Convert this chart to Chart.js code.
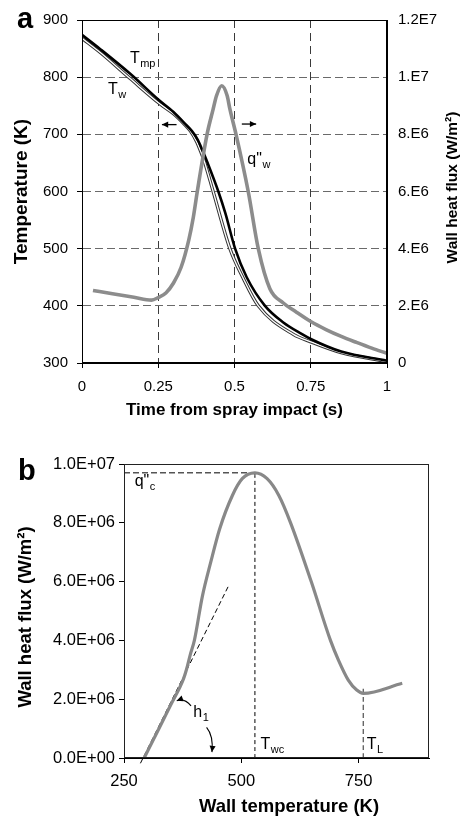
<!DOCTYPE html>
<html>
<head>
<meta charset="utf-8">
<script src="https://cdn.jsdelivr.net/npm/chart.js@4.4.1/dist/chart.umd.min.js"></script>
<style>
  html, body { margin: 0; padding: 0; background: #fff; }
  #wrapA { position: absolute; left: 0; top: 0; width: 465px; height: 425px; }
  #wrapB { position: absolute; left: 0; top: 425px; width: 465px; height: 391px; }
</style>
</head>
<body>
<div id="wrapA"><canvas id="chartA" width="465" height="425"></canvas></div>
<div id="wrapB"><canvas id="chartB" width="465" height="391"></canvas></div>
<script>
// ---- panel a: temperatures and wall heat flux vs time ----
const timeTicks = [0, 0.25, 0.5, 0.75, 1];
const timeTickLabels = ['0', '0.25', '0.5', '0.75', '1'];
const tempTicks = [300, 400, 500, 600, 700, 800, 900];
const tempTickLabels = ['300', '400', '500', '600', '700', '800', '900'];
const fluxTicksA = [0, 2e6, 4e6, 6e6, 8e6, 1e7, 1.2e7];
const fluxTickLabelsA = ['0', '2.E6', '4.E6', '6.E6', '8.E6', '1.E7', '1.2E7'];

const tmpTime = [0, 0.06, 0.16, 0.25, 0.30, 0.335, 0.36, 0.38, 0.395, 0.411, 0.447, 0.47, 0.502, 0.54, 0.6, 0.66, 0.72, 0.75, 0.85, 1.0];
const tmpTemp = [874, 849, 805, 761, 739, 720, 706, 690, 672, 651, 600, 562, 500, 450, 400, 371, 351, 342, 320, 304];

const twTime = [0, 0.06, 0.157, 0.256, 0.30, 0.335, 0.355, 0.375, 0.39, 0.401, 0.43, 0.485, 0.527, 0.578, 0.693, 0.75, 0.85, 1.0];
const twTemp = [868, 843, 798, 753, 736, 718, 706, 688, 669, 653, 600, 500, 450, 400, 350, 337, 318, 302.5];

const qwTime = [0.036, 0.10, 0.17, 0.228, 0.25, 0.275, 0.30, 0.325, 0.35, 0.365, 0.378, 0.41, 0.43, 0.441, 0.458, 0.476, 0.485, 0.505, 0.545, 0.578, 0.616, 0.66, 0.70, 0.75, 0.80, 0.85, 0.90, 0.95, 1.0];
const qwFlux = [2.54e6, 2.42e6, 2.30e6, 2.20e6, 2.29e6, 2.45e6, 2.8e6, 3.35e6, 4.3e6, 5.1e6, 6.0e6, 8.0e6, 8.88e6, 9.35e6, 9.70e6, 9.35e6, 8.88e6, 8.0e6, 6.0e6, 4.0e6, 2.6e6, 2.1e6, 1.8e6, 1.45e6, 1.17e6, 0.93e6, 0.72e6, 0.52e6, 0.34e6];

// ---- panel b: boiling curve ----
const wallTempTicks = [250, 500, 750];
const wallTempTickLabels = ['250', '500', '750'];
const fluxTicksB = [0, 2e6, 4e6, 6e6, 8e6, 1e7];
const fluxTickLabelsB = ['0.0E+00', '2.0E+06', '4.0E+06', '6.0E+06', '8.0E+06', '1.0E+07'];

const boilTemp = [293, 320, 350, 377, 383, 391, 400, 417, 435, 454, 481, 502, 529, 555, 580, 605, 649, 690, 707, 728, 746, 760, 843];
const boilFlux = [0, 0.86e6, 1.82e6, 2.7e6, 3.0e6, 3.5e6, 4.0e6, 5.5e6, 6.67e6, 7.8e6, 8.93e6, 9.5e6, 9.7e6, 9.5e6, 8.93e6, 8.0e6, 6.0e6, 4.0e6, 3.33e6, 2.65e6, 2.31e6, 2.2e6, 2.54e6];

const tangentTemp = [285, 472];
const tangentFlux = [-0.18e6, 5.83e6];
const qcTemp = [250, 529];
const qcFlux = [9.7e6, 9.7e6];
const twcTemp = [529, 529];
const twcFlux = [0, 9.7e6];
const tlTemp = [760, 760];
const tlFlux = [0, 2.4e6];

const FONT = '"Liberation Sans", Arial, Helvetica, sans-serif';
Chart.defaults.font.family = FONT;
Chart.defaults.color = '#000';

const pts = (xs, ys) => xs.map((x, i) => ({ x: x, y: ys[i] }));
const fixTicks = (values) => (scale) => { scale.ticks = values.map(v => ({ value: v })); };
const tickText = (labels) => (value, index) => labels[index];

function subText(ctx, x, y, main, sub, size) {
  ctx.font = size + 'px ' + FONT;
  ctx.textAlign = 'left';
  ctx.textBaseline = 'alphabetic';
  ctx.fillText(main, x, y);
  const w = ctx.measureText(main).width;
  ctx.font = Math.round(size * 0.7) + 'px ' + FONT;
  ctx.fillText(sub, x + w + 0.5, y + size * 0.25);
}

function vText(ctx, text, cx, cy, font) {
  ctx.save();
  ctx.translate(cx, cy);
  ctx.rotate(-Math.PI / 2);
  ctx.font = font;
  ctx.textAlign = 'center';
  ctx.textBaseline = 'middle';
  ctx.fillText(text, 0, 0);
  ctx.restore();
}

function head(ctx, x, y, ang, size) {
  ctx.beginPath();
  ctx.moveTo(x, y);
  ctx.lineTo(x - size * Math.cos(ang - 0.45), y - size * Math.sin(ang - 0.45));
  ctx.lineTo(x - size * Math.cos(ang + 0.45), y - size * Math.sin(ang + 0.45));
  ctx.closePath();
  ctx.fill();
}

function straightArrow(ctx, x1, y1, x2, y2) {
  ctx.beginPath();
  ctx.moveTo(x1, y1);
  ctx.lineTo(x2, y2);
  ctx.stroke();
  head(ctx, x2, y2, Math.atan2(y2 - y1, x2 - x1), 7);
}

function curvedArrow(ctx, x1, y1, cx, cy, x2, y2) {
  ctx.beginPath();
  ctx.moveTo(x1, y1);
  ctx.quadraticCurveTo(cx, cy, x2, y2);
  ctx.stroke();
  head(ctx, x2, y2, Math.atan2(y2 - cy, x2 - cx), 7);
}

function frame(ctx, ca, color) {
  ctx.strokeStyle = color;
  ctx.lineWidth = 1;
  ctx.strokeRect(Math.round(ca.left) + 0.5, Math.round(ca.top) + 0.5,
    Math.round(ca.right - ca.left) - 1, Math.round(ca.bottom - ca.top) - 1);
}

const panelA = {
  id: 'panelA',
  afterDraw(chart) {
    const { ctx, chartArea: ca } = chart;
    const sx = chart.scales.x, sy = chart.scales.y;
    ctx.save();
    frame(ctx, ca, '#000');
    ctx.fillStyle = '#000';
    ctx.font = 'bold 29px ' + FONT;
    ctx.textAlign = 'left';
    ctx.textBaseline = 'alphabetic';
    ctx.fillText('a', 17, 28);

    ctx.font = 'bold 17px ' + FONT;
    ctx.textAlign = 'center';
    ctx.textBaseline = 'middle';
    ctx.fillText('Time from spray impact (s)', (ca.left + ca.right) / 2, 410);
    vText(ctx, 'Temperature (K)', 21.5, (ca.top + ca.bottom) / 2, 'bold 19px ' + FONT);
    vText(ctx, 'Wall heat flux (W/m²)', 453, (ca.top + ca.bottom) / 2 - 4, 'bold 15.5px ' + FONT);

    subText(ctx, sx.getPixelForValue(0.157), sy.getPixelForValue(825.5), 'T', 'mp', 16);
    subText(ctx, sx.getPixelForValue(0.085), sy.getPixelForValue(770), 'T', 'w', 16);
    subText(ctx, sx.getPixelForValue(0.542), sy.getPixelForValue(648.7), 'q"', 'w', 16);

    ctx.strokeStyle = '#000';
    ctx.lineWidth = 1.3;
    straightArrow(ctx, sx.getPixelForValue(0.31), sy.getPixelForValue(717), sx.getPixelForValue(0.262), sy.getPixelForValue(717));
    straightArrow(ctx, sx.getPixelForValue(0.524), sy.getPixelForValue(718), sx.getPixelForValue(0.571), sy.getPixelForValue(718));
    ctx.restore();
  }
};

const panelB = {
  id: 'panelB',
  afterDraw(chart) {
    const { ctx, chartArea: ca } = chart;
    const sx = chart.scales.x, sy = chart.scales.y;
    ctx.save();
    frame(ctx, ca, '#222');
    ctx.fillStyle = '#000';
    ctx.font = 'bold 29px ' + FONT;
    ctx.textAlign = 'left';
    ctx.textBaseline = 'alphabetic';
    ctx.fillText('b', 18, 55);

    ctx.font = 'bold 18.5px ' + FONT;
    ctx.textAlign = 'center';
    ctx.textBaseline = 'middle';
    ctx.fillText('Wall temperature (K)', 289, 382);
    vText(ctx, 'Wall heat flux (W/m²)', 26, (ca.top + ca.bottom) / 2 + 6, 'bold 18.5px ' + FONT);

    subText(ctx, sx.getPixelForValue(272.7), sy.getPixelForValue(9.25e6), 'q"', 'c', 16);
    subText(ctx, sx.getPixelForValue(541), sy.getPixelForValue(0.3e6), 'T', 'wc', 16);
    subText(ctx, sx.getPixelForValue(767.4), sy.getPixelForValue(0.3e6), 'T', 'L', 16);
    subText(ctx, sx.getPixelForValue(397.8), sy.getPixelForValue(1.39e6), 'h', '1', 16);

    ctx.strokeStyle = '#000';
    ctx.lineWidth = 1.1;
    curvedArrow(ctx,
      sx.getPixelForValue(392.9), sy.getPixelForValue(1.77e6),
      sx.getPixelForValue(378.7), sy.getPixelForValue(2.05e6),
      sx.getPixelForValue(362.4), sy.getPixelForValue(1.95e6));
    curvedArrow(ctx,
      sx.getPixelForValue(426), sy.getPixelForValue(1.04e6),
      sx.getPixelForValue(441), sy.getPixelForValue(0.75e6),
      sx.getPixelForValue(437.4), sy.getPixelForValue(0.2e6));
    ctx.restore();
  }
};

const line = (data, extra) => Object.assign({
  data: data, pointRadius: 0, fill: false, tension: 0,
  cubicInterpolationMode: 'monotone'
}, extra);

new Chart(document.getElementById('chartA'), {
  type: 'line',
  data: {
    datasets: [
      line(pts(qwTime, qwFlux), { label: 'q"w', yAxisID: 'y2', borderColor: '#8c8c8c', borderWidth: 3.6 }),
      line(pts(tmpTime, tmpTemp), { label: 'Tmp', yAxisID: 'y', borderColor: '#000', borderWidth: 2.6 }),
      line(pts(twTime, twTemp), { label: 'Tw core', yAxisID: 'y', borderColor: '#fff', borderWidth: 1.3 }),
      line(pts(twTime, twTemp), { label: 'Tw', yAxisID: 'y', borderColor: '#333', borderWidth: 3.3 })
    ]
  },
  options: {
    responsive: false,
    animation: false,
    devicePixelRatio: 1,
    layout: { padding: { top: 19, left: 0, right: 0, bottom: 0 } },
    plugins: { legend: { display: false }, tooltip: { enabled: false } },
    scales: {
      x: {
        type: 'linear', min: 0, max: 1,
        afterBuildTicks: fixTicks(timeTicks),
        afterFit: (s) => { s.height = 62; },
        ticks: { callback: tickText(timeTickLabels), font: { size: 15 }, color: '#000', padding: 10, maxRotation: 0, autoSkip: false },
        grid: { color: '#3a3a3a', lineWidth: 1, tickLength: 5, tickColor: '#000' },
        border: { color: '#000', dash: [8, 5] }
      },
      y: {
        type: 'linear', position: 'left', min: 300, max: 900,
        afterBuildTicks: fixTicks(tempTicks),
        afterFit: (s) => { s.width = 82; },
        ticks: { callback: tickText(tempTickLabels), font: { size: 15 }, color: '#000', padding: 9 },
        grid: { color: '#6a6a6a', lineWidth: 1, tickLength: 5, tickColor: '#000' },
        border: { color: '#000', dash: [8, 4] }
      },
      y2: {
        type: 'linear', position: 'right', min: 0, max: 1.2e7,
        afterBuildTicks: fixTicks(fluxTicksA),
        afterFit: (s) => { s.width = 78; },
        ticks: { callback: tickText(fluxTickLabelsA), font: { size: 15 }, color: '#000', padding: 11 },
        grid: { display: false, drawTicks: false },
        border: { color: '#000' }
      }
    }
  },
  plugins: [panelA]
});

new Chart(document.getElementById('chartB'), {
  type: 'line',
  data: {
    datasets: [
      line(pts(boilTemp, boilFlux), { label: 'boiling curve', borderColor: '#888', borderWidth: 3.2 }),
      line(pts(tangentTemp, tangentFlux), { label: 'h1', borderColor: '#000', borderWidth: 1, borderDash: [5, 3], clip: false }),
      line(pts(qcTemp, qcFlux), { label: 'q"c', borderColor: '#555', borderWidth: 1.4, borderDash: [6, 3] }),
      line(pts(twcTemp, twcFlux), { label: 'Twc', borderColor: '#000', borderWidth: 1, borderDash: [4, 3] }),
      line(pts(tlTemp, tlFlux), { label: 'TL', borderColor: '#666', borderWidth: 1.4, borderDash: [5, 3] })
    ]
  },
  options: {
    responsive: false,
    animation: false,
    devicePixelRatio: 1,
    layout: { padding: { top: 39, left: 0, right: 36, bottom: 0 } },
    plugins: { legend: { display: false }, tooltip: { enabled: false } },
    scales: {
      x: {
        type: 'linear', min: 250, max: 900,
        afterBuildTicks: fixTicks(wallTempTicks),
        afterFit: (s) => { s.height = 58; },
        ticks: { callback: tickText(wallTempTickLabels), font: { size: 16.5 }, color: '#000', padding: 9, maxRotation: 0, autoSkip: false },
        grid: { drawOnChartArea: false, tickLength: 5, tickColor: '#000' },
        border: { color: '#000' }
      },
      y: {
        type: 'linear', position: 'left', min: 0, max: 1e7,
        afterBuildTicks: fixTicks(fluxTicksB),
        afterFit: (s) => { s.width = 124; },
        ticks: { callback: tickText(fluxTickLabelsB), font: { size: 16.5 }, color: '#000', padding: 4 },
        grid: { drawOnChartArea: false, tickLength: 5, tickColor: '#000' },
        border: { color: '#000' }
      }
    }
  },
  plugins: [panelB]
});
</script>
</body>
</html>
